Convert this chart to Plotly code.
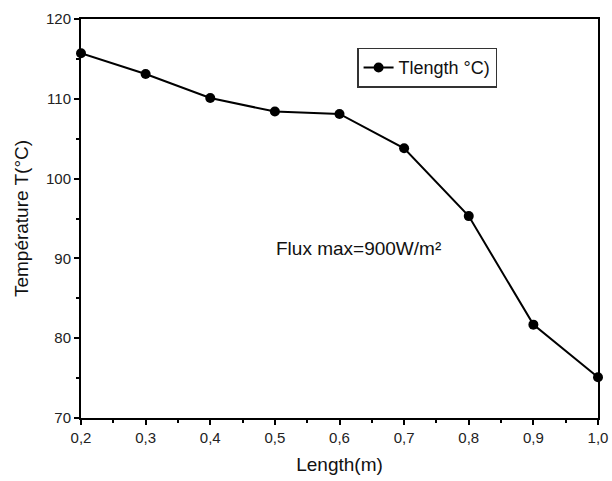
import plotly.graph_objects as go

length_m = [0.2, 0.3, 0.4, 0.5, 0.6, 0.7, 0.8, 0.9, 1.0]
temperature_c = [115.7, 113.1, 110.1, 108.4, 108.1, 103.8, 95.3, 81.7, 75.1]
series_name = "Tlength °C)"
x_title = "Length(m)"
y_title = "Température T(°C)"
note_text = "Flux max=900W/m²"

fig = go.Figure()
fig.add_trace(go.Scatter(
    x=length_m, y=temperature_c, mode="lines+markers", name=series_name,
    line=dict(color="black", width=2),
    marker=dict(color="black", size=10),
    cliponaxis=False,
))

font = "Liberation Sans, Arial, sans-serif"
axis_common = dict(
    showline=True, linecolor="black", linewidth=2, mirror=True,
    ticks="outside", tickcolor="black", tickwidth=2, ticklen=5,
    showgrid=False, zeroline=False, automargin=False,
    tickfont=dict(family=font, size=15, color="#222"),
    title_font=dict(family=font, size=19, color="#111"),
)
fig.update_xaxes(
    range=[0.2, 1.0], tickvals=[0.2, 0.3, 0.4, 0.5, 0.6, 0.7, 0.8, 0.9, 1.0],
    tickformat=".1f", title_text=x_title, title_standoff=13,
    minor=dict(ticks="outside", ticklen=3, tickwidth=2, tickcolor="black", dtick=0.05, showgrid=False),
    **axis_common,
)
fig.update_yaxes(
    range=[70, 120], dtick=10, title_text=y_title, title_standoff=12,
    minor=dict(ticks="outside", ticklen=3, tickwidth=2, tickcolor="black", dtick=5, showgrid=False),
    **axis_common,
)
fig.add_annotation(
    x=0.63, y=91.2, xref="x", yref="y", text=note_text, showarrow=False,
    font=dict(family=font, size=19, color="#111"), xanchor="center", yanchor="middle",
)
fig.update_layout(
    width=612, height=481, separators=", ",
    margin=dict(l=81, r=14, t=19, b=63, autoexpand=False),
    paper_bgcolor="white", plot_bgcolor="white",
    showlegend=True,
    legend=dict(
        x=0.534, y=0.928, xanchor="left", yanchor="top",
        bordercolor="#333", borderwidth=1.5, bgcolor="white",
        font=dict(family=font, size=18, color="#111"),
        itemwidth=30, tracegroupgap=0,
    ),
)
fig.write_html("out.html", config={"displayModeBar": False},
               post_script="document.body.style.margin='0';")
